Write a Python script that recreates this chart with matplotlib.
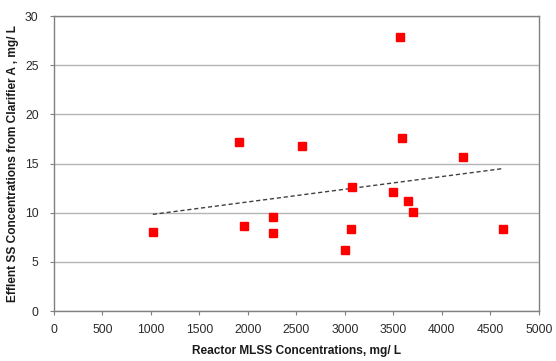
import numpy as np
import matplotlib
matplotlib.use('Agg')
import matplotlib.pyplot as plt

plt.rcParams['font.family'] = ['Liberation Sans', 'DejaVu Sans']

# reactor MLSS (mg/L) vs effluent SS (mg/L)
mlss = [1020, 1910, 1960, 2260, 2260, 2560, 3000, 3060, 3070, 3500,
        3650, 3700, 4630, 3570, 3590, 4220]
ess = [8.0, 17.2, 8.6, 9.6, 7.9, 16.8, 6.2, 8.3, 12.6, 12.1,
       11.2, 10.1, 8.3, 27.9, 17.6, 15.7]
xticks = [0, 500, 1000, 1500, 2000, 2500, 3000, 3500, 4000, 4500, 5000]
yticks = [0, 5, 10, 15, 20, 25, 30]

fig = plt.figure(figsize=(5.56, 3.61), dpi=100)
ax = fig.add_axes([0.097, 0.1385, 0.872, 0.817])

ax.set_xlim(0, 5000)
ax.set_ylim(0, 30)
ax.set_xticks(xticks)
ax.set_yticks(yticks)
ax.yaxis.grid(True, color='#b4b4b4', lw=1.0)
ax.set_axisbelow(True)

# linear trend line over the data range
p = np.polyfit(mlss, ess, 1)
xt = np.array([min(mlss), max(mlss)])
ax.plot(xt, np.polyval(p, xt), ls=(0, (3, 2)), color='#404040', lw=1.0)

ax.plot(mlss, ess, 's', color='#ff0000', ms=6.3, mec='#ff0000', ls='none')

for s in ax.spines.values():
    s.set_color('#808080')
    s.set_linewidth(1.0)
ax.tick_params(colors='#808080', labelcolor='#2a2a2a', labelsize=8.8, length=3, width=0.8)
ax.tick_params(axis='x', pad=6)
ax.tick_params(axis='y', pad=8)

ax.set_xlabel('Reactor MLSS Concentrations, mg/ L', fontsize=8.6, fontweight='bold', color='#1a1a1a', labelpad=7)
ax.set_ylabel('Efflent SS Concentrations from Clarifier A , mg/ L', fontsize=8.6, fontweight='bold', color='#1a1a1a', labelpad=4)

fig.savefig('out.png', dpi=100)
